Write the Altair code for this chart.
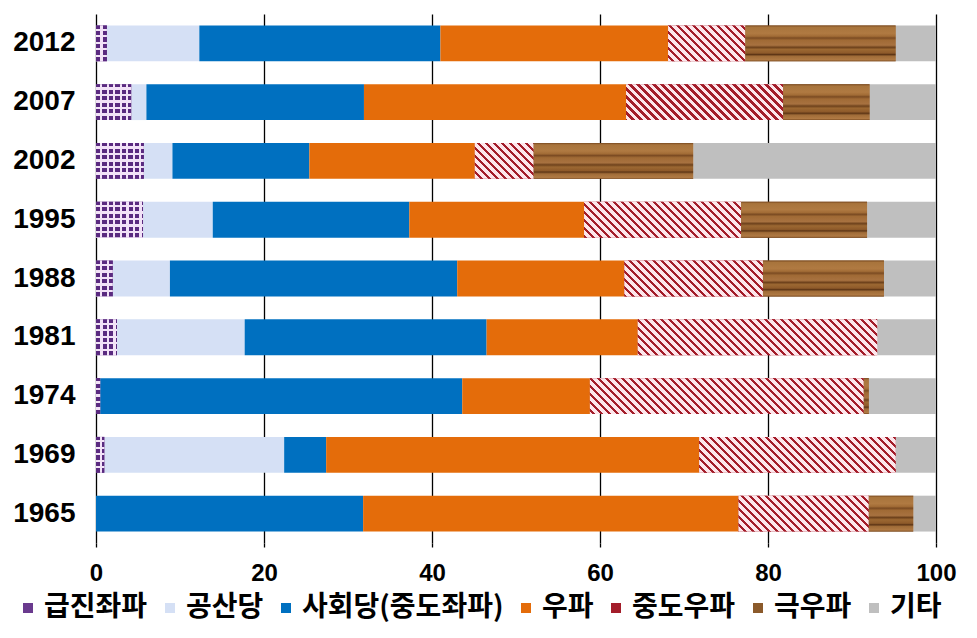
import math
import altair as alt
import pandas as pd

# ---- data (percent shares) ----
years = ["2012", "2007", "2002", "1995", "1988", "1981", "1974", "1969", "1965"]
parties = ["급진좌파", "공산당", "사회당(중도좌파)", "우파", "중도우파", "극우파", "기타"]
radical_left = [1.3, 4.2, 5.7, 5.6, 2.0, 2.5, 0.5, 1.0, 0.0]
communist = [11.0, 1.8, 3.4, 8.3, 6.8, 15.2, 0.0, 21.4, 0.0]
socialist = [28.7, 25.9, 16.3, 23.4, 34.2, 28.8, 43.1, 5.0, 31.8]
right = [27.1, 31.2, 19.7, 20.8, 19.9, 18.0, 15.2, 44.4, 44.7]
center_right = [9.2, 18.7, 7.0, 18.7, 16.5, 28.5, 32.6, 23.4, 15.5]
far_right = [17.9, 10.3, 19.0, 15.0, 14.4, 0.0, 0.6, 0.0, 5.3]
other = [4.8, 7.9, 28.9, 8.2, 6.2, 7.0, 8.0, 4.8, 2.7]
x_ticks = [0, 20, 40, 60, 80, 100]

series = [radical_left, communist, socialist, right, center_right, far_right, other]
legend_colors = ["#6A3A8E", "#D5E0F5", "#0070C0", "#E46C0A", "#A31D2A", "#8B5A2B", "#BFBFBF"]

# ---- layout ----
W, H = 840, 529
PI = 0.39
STEP = H / len(years)
BAR_H = STEP * (1 - PI)
PX = W / 100.0

rows = []
for i, yr in enumerate(years):
    s = 0.0
    for p, vals in zip(parties, series):
        v = vals[i]
        rows.append(dict(year=yr, party=p, start=s, end=s + v, value=v))
        s += v
df = pd.DataFrame(rows)
df = df[df["value"] > 0].reset_index(drop=True)

y_axis = alt.Axis(title=None, ticks=False, domain=False, grid=False,
                  labelFont="Liberation Sans", labelFontSize=28, labelFontWeight="bold",
                  labelColor="black", labelPadding=21)
x_axis = alt.Axis(title=None, values=x_ticks, format="d", grid=True, gridColor="black",
                  gridOpacity=1, gridWidth=1.3, domain=False, ticks=True, tickColor="black",
                  tickSize=4, tickWidth=1.3, labelFont="Liberation Sans", labelFontSize=24,
                  labelFontWeight="bold", labelColor="black", labelPadding=14,
                  labelFlush=False)


def enc(chart):
    return chart.encode(
        y=alt.Y("year:N", sort=years, axis=y_axis,
                scale=alt.Scale(paddingInner=PI, paddingOuter=PI / 2)),
        x=alt.X("start:Q", axis=x_axis, scale=alt.Scale(domain=[0, 100], nice=False)),
        x2="end:Q",
    )


def band_stops(L, P, D, phase, con, coff):
    ph = phase % P
    bounds = []
    k = -1
    while k * P - ph < L + P:
        for b in (k * P - ph, k * P - ph + D):
            if 0 < b < L:
                bounds.append(b)
        k += 1
    bounds.sort()
    state = (ph % P) < D
    col = lambda st: con if st else coff
    stops = [(0.0, col(state))]
    for b in bounds:
        o = b / L
        stops.append((o, col(state)))
        state = not state
        stops.append((o, col(state)))
    stops.append((1.0, col(state)))
    return stops


def grad(stops, x1, y1, x2, y2):
    return alt.LinearGradient(
        gradient="linear",
        stops=[alt.GradientStop(color=c, offset=max(0.0, min(1.0, o))) for o, c in stops],
        x1=x1, y1=y1, x2=x2, y2=y2)


layers = []
base = enc(alt.Chart(df).mark_bar(strokeWidth=0)).encode(
    color=alt.Color("party:N", scale=alt.Scale(domain=parties, range=legend_colors),
                    legend=alt.Legend(orient="none", legendX=-82, legendY=580,
                                      direction="horizontal", columns=7, title=None,
                                      symbolType="square", symbolSize=100,
                                      symbolStrokeWidth=0, labelFont="Noto Sans CJK KR",
                                      labelFontSize=28, labelFontWeight="bold",
                                      labelColor="black", labelOffset=2,
                                      columnPadding=8, labelLimit=500))
)
layers.append(base)

# 급진좌파: checked pattern (purple columns, then light rows on top)
purple, lilac = "#5A2A80", "#F2E2F7"
for _, r in df[df["party"] == parties[0]].iterrows():
    w = (r["end"] - r["start"]) * PX
    st = band_stops(w, 6.5, 4.2, r["start"] * PX, purple, lilac)
    layers.append(enc(alt.Chart(pd.DataFrame([r])).mark_bar(
        strokeWidth=0, color=grad(st, 0, 0, 1, 0))))
rows_st = band_stops(BAR_H, 6.5, 4.2, 1.0, "rgba(242,226,247,0)", lilac)
layers.append(enc(alt.Chart(df[df["party"] == parties[0]]).mark_bar(
    strokeWidth=0, color=grad(rows_st, 0, 0, 0, 1))))

# 중도우파: diagonal stripes
dark_red, pink = "#A31D2A", "#FDE6EB"
for _, r in df[df["party"] == parties[4]].iterrows():
    w = (r["end"] - r["start"]) * PX
    ratio = BAR_H / w
    k = (1 + ratio) / (1 + ratio * ratio)
    st = band_stops(w + BAR_H, 8.0, 3.2, r["start"] * PX, dark_red, pink)
    layers.append(enc(alt.Chart(pd.DataFrame([r])).mark_bar(
        strokeWidth=0, color=grad(st, 0, 1, k, 1 - k * ratio))))

# 극우파: wood grain
wood = [(0.00, "#7A4A20"), (0.05, "#A8743C"), (0.22, "#B07A42"), (0.30, "#A26C36"),
        (0.35, "#7B4B22"), (0.41, "#A06A35"), (0.55, "#A87240"), (0.61, "#6E421C"),
        (0.67, "#9C6832"), (0.77, "#8E5A2A"), (0.81, "#5E3616"), (0.86, "#A06C38"),
        (0.96, "#B07A44"), (1.00, "#7A4A20")]
layers.append(enc(alt.Chart(df[df["party"] == parties[5]]).mark_bar(
    strokeWidth=0, color=grad(wood, 0, 0, 0, 1))))

chart = alt.layer(*layers).properties(
    width=W, height=H,
    autosize=alt.AutoSizeParams(type="none"),
    padding={"left": 88, "top": 6, "right": 30, "bottom": 92},
).configure_view(stroke=None)

chart.save("out.html", embed_options={"renderer": "svg", "actions": False})
